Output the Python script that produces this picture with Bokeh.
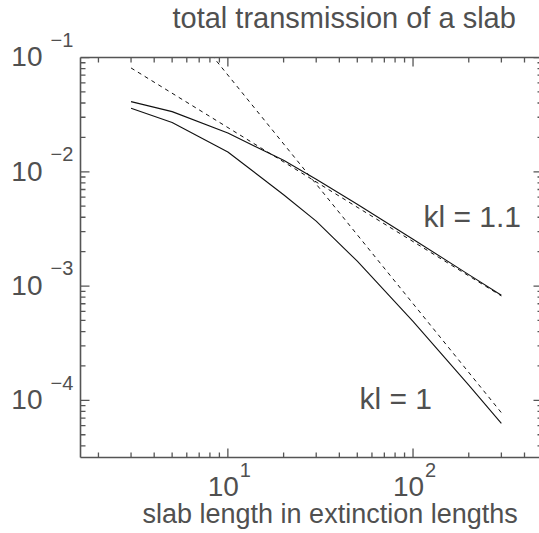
import math
from bokeh.plotting import figure
from bokeh.models import (Range1d, LogAxis, FixedTicker, CustomJSTickFormatter,
                          ColumnDataSource)
from bokeh.core.properties import value
from bokeh.embed import file_html
from bokeh.resources import INLINE

# ---------------- data ----------------
slab_length = [3, 5, 10, 20, 30, 50, 100, 200, 300]
transmission_kl_1_1 = [0.0411, 0.0336, 0.0218, 0.0126, 0.0086, 0.0052, 0.00257, 0.00126, 0.00083]
transmission_kl_1 = [0.036, 0.027, 0.0149, 0.0063, 0.0037, 0.00165, 0.00049, 0.000136, 0.000063]

guide_length = [3, 300]
guide_diffusive = [0.081, 0.00082]      # dashed, ~1/L
guide_localized = [0.78, 0.000078]      # dashed, ~1/L^2

x_tick_values = [10, 100]
x_tick_exponents = ["1", "2"]
y_tick_values = [1e-4, 1e-3, 1e-2, 1e-1]
y_tick_exponents = ["\u22124", "\u22123", "\u22122", "\u22121"]

title_text = "total transmission of a slab"
x_label_text = "slab length in extinction lengths"
curve_labels = ["kl = 1.1", "kl = 1"]

# ---------------- layout / styling ----------------
X0, X1 = 1.6, 482.0
Y0, Y1 = 10 ** -4.5, 0.1
FRAME_W, FRAME_H = 459, 400
PPD_X = FRAME_W / math.log10(X1 / X0)     # pixels per decade
PPD_Y = FRAME_H / math.log10(Y1 / Y0)

FONT = "Liberation Sans"
TEXT_COLOR = "#505050"
AXIS_COLOR = "#555555"
LINE_COLOR = "#111111"


def xs(v, px):
    """move a data x value by px screen pixels (right positive)"""
    return v * 10 ** (px / PPD_X)


def ys(v, px):
    """move a data y value by px screen pixels (down positive)"""
    return v * 10 ** (-px / PPD_Y)


x_major_all = [1, 10, 100, 1000]
y_major_all = [1e-5, 1e-4, 1e-3, 1e-2, 1e-1]
x_minor = [m * 10.0 ** k for k in range(0, 3) for m in range(2, 10)]
y_minor = [m * 10.0 ** k for k in range(-5, -1) for m in range(2, 10)]
x_major_in = [v for v in x_major_all if X0 <= v <= X1]
y_major_in = [v for v in y_major_all if Y0 <= v <= Y1 * 1.0001]
x_minor_in = [v for v in x_minor if X0 <= v <= X1]
y_minor_in = [v for v in y_minor if Y0 <= v <= Y1]

p = figure(width=539, height=533, title=None,
           x_axis_type="log", y_axis_type="log",
           x_range=Range1d(X0, X1), y_range=Range1d(Y0, Y1),
           output_backend="svg", toolbar_location=None,
           min_border_left=80, min_border_right=0, min_border_top=57,
           min_border_bottom=76, background_fill_color="white",
           border_fill_color="white")
p.outline_line_color = None
p.xgrid.visible = False
p.ygrid.visible = False


def style_axis(ax, major_ticks, minor_ticks):
    ax.ticker = FixedTicker(ticks=major_ticks, minor_ticks=minor_ticks)
    ax.formatter = CustomJSTickFormatter(code="return ''")
    ax.major_tick_in = 0
    ax.major_tick_out = 0
    ax.minor_tick_in = 0
    ax.minor_tick_out = 0
    ax.major_tick_line_color = None
    ax.minor_tick_line_color = None
    ax.axis_line_color = AXIS_COLOR
    ax.axis_line_width = 1.6
    ax.major_label_standoff = 0


style_axis(p.below[0], x_major_all, x_minor)
style_axis(p.left[0], y_major_all, y_minor)
top_axis = LogAxis()
style_axis(top_axis, x_major_all, x_minor)
p.add_layout(top_axis, "above")

# ---- tick marks, pointing into the box (IDL style) ----
tick_x0, tick_x1, tick_y0, tick_y1 = [], [], [], []


def add_ticks(vals, side, length):
    for v in vals:
        if side == "left":
            tick_x0.append(X0); tick_x1.append(xs(X0, length))
            tick_y0.append(v); tick_y1.append(v)
        elif side == "right":
            tick_x0.append(X1); tick_x1.append(xs(X1, -length))
            tick_y0.append(v); tick_y1.append(v)
        elif side == "bottom":
            tick_x0.append(v); tick_x1.append(v)
            tick_y0.append(Y0); tick_y1.append(ys(Y0, -length))
        else:
            tick_x0.append(v); tick_x1.append(v)
            tick_y0.append(Y1); tick_y1.append(ys(Y1, length))


add_ticks(y_major_in, "left", 9)
add_ticks(y_minor_in, "left", 5)
add_ticks(y_major_in, "right", 6)
add_ticks(y_minor_in, "right", 2)
add_ticks(x_major_in, "bottom", 9)
add_ticks(x_minor_in, "bottom", 5)
add_ticks(x_major_in, "top", 9)
add_ticks(x_minor_in, "top", 5)
p.segment(tick_x0, tick_y0, tick_x1, tick_y1, line_color=AXIS_COLOR, line_width=1.3)

# ---- curves ----
src = ColumnDataSource(dict(x=slab_length, a=transmission_kl_1_1, b=transmission_kl_1))
p.line("x", "a", source=src, line_color=LINE_COLOR, line_width=1.1)
p.line("x", "b", source=src, line_color=LINE_COLOR, line_width=1.1)

gsrc = ColumnDataSource(dict(x=guide_length, d=guide_diffusive, l=guide_localized))
p.line("x", "d", source=gsrc, line_color=LINE_COLOR, line_width=1.0, line_dash="4 4")
p.line("x", "l", source=gsrc, line_color=LINE_COLOR, line_width=1.0, line_dash="4 4")

BASELINE_FIX = 0.38   # renderer places the alphabetic baseline ~0.38 em too low


def put_text(x, y_ref, y_px, txt, size, align="left"):
    """y_px: wanted baseline, in pixels below the data value y_ref"""
    y = ys(y_ref, y_px - BASELINE_FIX * size)
    p.text(x=[x], y=[y], text=[txt], text_font=value(FONT),
           text_font_size="%dpx" % size, text_color=TEXT_COLOR,
           text_align=align, text_baseline="alphabetic", level="overlay")


# ---- tick labels: "10" with raised exponent ----
for v, e in zip(y_tick_values, y_tick_exponents):
    put_text(xs(X0, -38), v, 10, "10", 28, "right")
    put_text(xs(X0, -30), v, -10, e, 20, "left")
for v, e in zip(x_tick_values, x_tick_exponents):
    put_text(xs(v, 11), Y0, 40, "10", 28, "right")
    put_text(xs(v, 12), Y0, 20, e, 20, "left")

# ---- title, axis title and curve labels ----
put_text(xs(X0, 92), Y1, -28, title_text, 29)
put_text(xs(X0, 62), Y0, 67, x_label_text, 27)
put_text(xs(X0, 343), Y1, 170, curve_labels[0], 30)
put_text(xs(X0, 279), Y1, 352, curve_labels[1], 30)

open("out.html", "w").write(file_html(p, INLINE))
